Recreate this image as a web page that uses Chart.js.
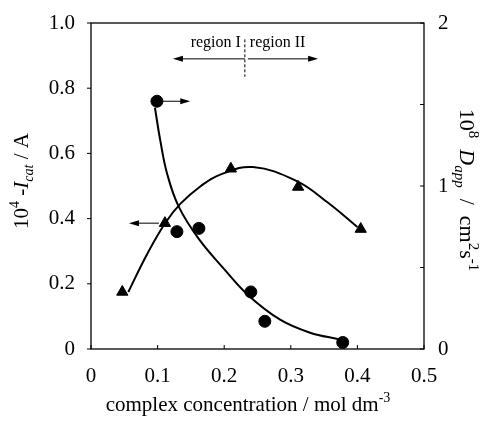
<!DOCTYPE html>
<html>
<head>
<meta charset="utf-8">
<script src="https://cdn.jsdelivr.net/npm/chart.js@4/dist/chart.umd.min.js"></script>
<style>
  html, body { margin: 0; background: #fff; }
  #wrap { width: 487px; height: 421px; }
</style>
</head>
<body>
<div id="wrap"><canvas id="chart"></canvas></div>
<script>
// I_cat (left axis), triangles
const triX = [0.047, 0.111, 0.21, 0.311, 0.405];
const triY = [0.175, 0.386, 0.553, 0.497, 0.368];
// D_app (right axis), circles
const dotX = [0.099, 0.129, 0.162, 0.240, 0.261, 0.378];
const dotY = [1.52, 0.72, 0.74, 0.35, 0.17, 0.04];
// hand-drawn fit curves
const triFitX = [0.056, 0.084, 0.111, 0.134, 0.165, 0.194, 0.243, 0.309, 0.355, 0.400];
const triFitY = [0.175, 0.29, 0.385, 0.445, 0.50, 0.535, 0.558, 0.515, 0.45, 0.374];
const dotFitX = [0.096, 0.104, 0.114, 0.131, 0.161, 0.200, 0.236, 0.284, 0.329, 0.372];
const dotFitY = [1.48, 1.28, 1.08, 0.88, 0.68, 0.49, 0.33, 0.18, 0.10, 0.06];

const xTicks = [0, 0.1, 0.2, 0.3, 0.4, 0.5];
const leftTicks = [0, 0.2, 0.4, 0.6, 0.8, 1.0];
const rightTicks = [0, 0.5, 1, 1.5, 2];

// region markers
const regionSplit = 0.231;
const regionLeftEnd = 0.123;
const regionRightEnd = 0.341;

const SERIF = "'Liberation Serif', 'DejaVu Serif', serif";
const pts = (xs, ys) => xs.map((x, i) => ({ x, y: ys[i] }));

function arrow(ctx, x1, y1, x2, y2) {
  const a = Math.atan2(y2 - y1, x2 - x1);
  ctx.beginPath();
  ctx.moveTo(x1, y1);
  ctx.lineTo(x2 - 6 * Math.cos(a), y2 - 6 * Math.sin(a));
  ctx.stroke();
  ctx.beginPath();
  ctx.moveTo(x2, y2);
  ctx.lineTo(x2 - 10 * Math.cos(a) + 3 * Math.sin(a), y2 - 10 * Math.sin(a) - 3 * Math.cos(a));
  ctx.lineTo(x2 - 10 * Math.cos(a) - 3 * Math.sin(a), y2 - 10 * Math.sin(a) + 3 * Math.cos(a));
  ctx.closePath();
  ctx.fill();
}

// parts: {t, italic, shift, small}
function richText(ctx, parts, cx, cy, rot, size) {
  size = size || 21;
  const fontOf = (p) => (p.italic ? "italic " : "") + (p.small ? Math.round(size * 0.68) : size) + "px " + SERIF;
  let total = 0;
  parts.forEach((p) => { ctx.font = fontOf(p); p.w = ctx.measureText(p.t).width; total += p.w; });
  ctx.save();
  ctx.translate(cx, cy);
  ctx.rotate(rot);
  ctx.textBaseline = "alphabetic";
  ctx.textAlign = "left";
  let x = -total / 2;
  parts.forEach((p) => {
    ctx.font = fontOf(p);
    ctx.fillText(p.t, x, 7 + (p.shift || 0));
    x += p.w;
  });
  ctx.restore();
}

const extras = {
  id: "extras",
  afterDraw(chart) {
    const { ctx, chartArea: ca, scales } = chart;
    const x = scales.x, yl = scales.y, yr = scales.y2;
    ctx.save();
    ctx.strokeStyle = "#000";
    ctx.fillStyle = "#000";
    ctx.lineWidth = 1.3;
    ctx.strokeRect(ca.left, ca.top, ca.right - ca.left, ca.bottom - ca.top);

    // inward ticks on bottom and right, outward on left
    ctx.lineWidth = 1;
    xTicks.forEach((v) => {
      const px = x.getPixelForValue(v);
      ctx.beginPath(); ctx.moveTo(px, ca.bottom); ctx.lineTo(px, ca.bottom - 4); ctx.stroke();
    });
    rightTicks.forEach((v) => {
      const py = yr.getPixelForValue(v);
      ctx.beginPath(); ctx.moveTo(ca.right, py); ctx.lineTo(ca.right - 4, py); ctx.stroke();
    });
    leftTicks.forEach((v) => {
      const py = yl.getPixelForValue(v);
      ctx.beginPath(); ctx.moveTo(ca.left, py); ctx.lineTo(ca.left - 4, py); ctx.stroke();
    });

    // region labels
    const sx = x.getPixelForValue(regionSplit);
    const ay = yl.getPixelForValue(0.89);
    ctx.lineWidth = 1;
    ctx.setLineDash([3, 2]);
    ctx.beginPath();
    ctx.moveTo(sx, yl.getPixelForValue(0.95));
    ctx.lineTo(sx, yl.getPixelForValue(0.835));
    ctx.stroke();
    ctx.setLineDash([]);
    arrow(ctx, sx, ay, x.getPixelForValue(regionLeftEnd), ay);
    arrow(ctx, sx + 3, ay, x.getPixelForValue(regionRightEnd), ay);
    ctx.font = "16px " + SERIF;
    ctx.textBaseline = "alphabetic";
    ctx.textAlign = "right";
    ctx.fillText("region I", sx - 4, yl.getPixelForValue(0.926));
    ctx.textAlign = "left";
    ctx.fillText("region II", sx + 5, yl.getPixelForValue(0.926));

    // axis-pointer arrows
    const cy = yr.getPixelForValue(dotY[0]);
    arrow(ctx, x.getPixelForValue(0.108), cy, x.getPixelForValue(0.149), cy);
    const ty = yl.getPixelForValue(triY[1]);
    arrow(ctx, x.getPixelForValue(0.102), ty, x.getPixelForValue(0.057), ty);

    // axis titles
    richText(ctx, [
      { t: "10" }, { t: "4", small: true, shift: -9 }, { t: " -" },
      { t: "I", italic: true }, { t: "cat", italic: true, small: true, shift: 5 },
      { t: " / A" }
    ], 21, 181, -Math.PI / 2, 21);
    richText(ctx, [
      { t: "10" }, { t: "8", small: true, shift: -9 }, { t: "  " },
      { t: "D", italic: true }, { t: "app", italic: true, small: true, shift: 5 },
      { t: "  /  cm" }, { t: "2", small: true, shift: -9 }, { t: "s" }, { t: "-1", small: true, shift: -9 }
    ], 467, 190, Math.PI / 2, 22);
    richText(ctx, [
      { t: "complex concentration / mol dm" }, { t: "-3", small: true, shift: -9 }
    ], 248, 404, 0, 21);
    ctx.restore();
  }
};

const tickFont = { family: SERIF, size: 21 };

new Chart(document.getElementById("chart"), {
  type: "scatter",
  data: {
    datasets: [
      {
        data: pts(triFitX, triFitY), yAxisID: "y", showLine: true,
        borderColor: "#000", borderWidth: 2, pointRadius: 0, tension: 0.4
      },
      {
        data: pts(dotFitX, dotFitY), yAxisID: "y2", showLine: true,
        borderColor: "#000", borderWidth: 2, pointRadius: 0, tension: 0.4
      },
      {
        data: pts(triX, triY), yAxisID: "y", pointStyle: "triangle",
        pointRadius: 6.5, backgroundColor: "#000", borderColor: "#000"
      },
      {
        data: pts(dotX, dotY), yAxisID: "y2", pointStyle: "circle",
        pointRadius: 6, backgroundColor: "#000", borderColor: "#000"
      }
    ]
  },
  options: {
    responsive: true,
    maintainAspectRatio: false,
    animation: false,
    layout: { padding: { top: 23 } },
    plugins: { legend: { display: false }, tooltip: { enabled: false } },
    scales: {
      x: {
        type: "linear", min: 0, max: 0.5, position: "bottom",
        afterBuildTicks: (s) => { s.ticks = xTicks.map((v) => ({ value: v })); },
        afterFit: (s) => { s.height = 72; },
        grid: { display: false },
        border: { display: false },
        ticks: { color: "#000", font: tickFont, padding: 7, maxRotation: 0,
          callback: (v) => (v === 0 ? "0" : v.toFixed(1)) }
      },
      y: {
        min: 0, max: 1, position: "left",
        afterBuildTicks: (s) => { s.ticks = leftTicks.map((v) => ({ value: v })); },
        afterFit: (s) => { s.width = 91; },
        grid: { display: false },
        border: { display: false },
        ticks: { color: "#000", font: tickFont, padding: 8,
          callback: (v) => (v === 0 ? "0" : v.toFixed(1)) }
      },
      y2: {
        min: 0, max: 2, position: "right",
        afterBuildTicks: (s) => { s.ticks = rightTicks.map((v) => ({ value: v })); },
        afterFit: (s) => { s.width = 63; },
        grid: { display: false },
        border: { display: false },
        ticks: { color: "#000", font: tickFont, padding: 6,
          callback: (v) => (Number.isInteger(v) ? String(v) : "") }
      }
    }
  },
  plugins: [extras]
});
</script>
</body>
</html>
